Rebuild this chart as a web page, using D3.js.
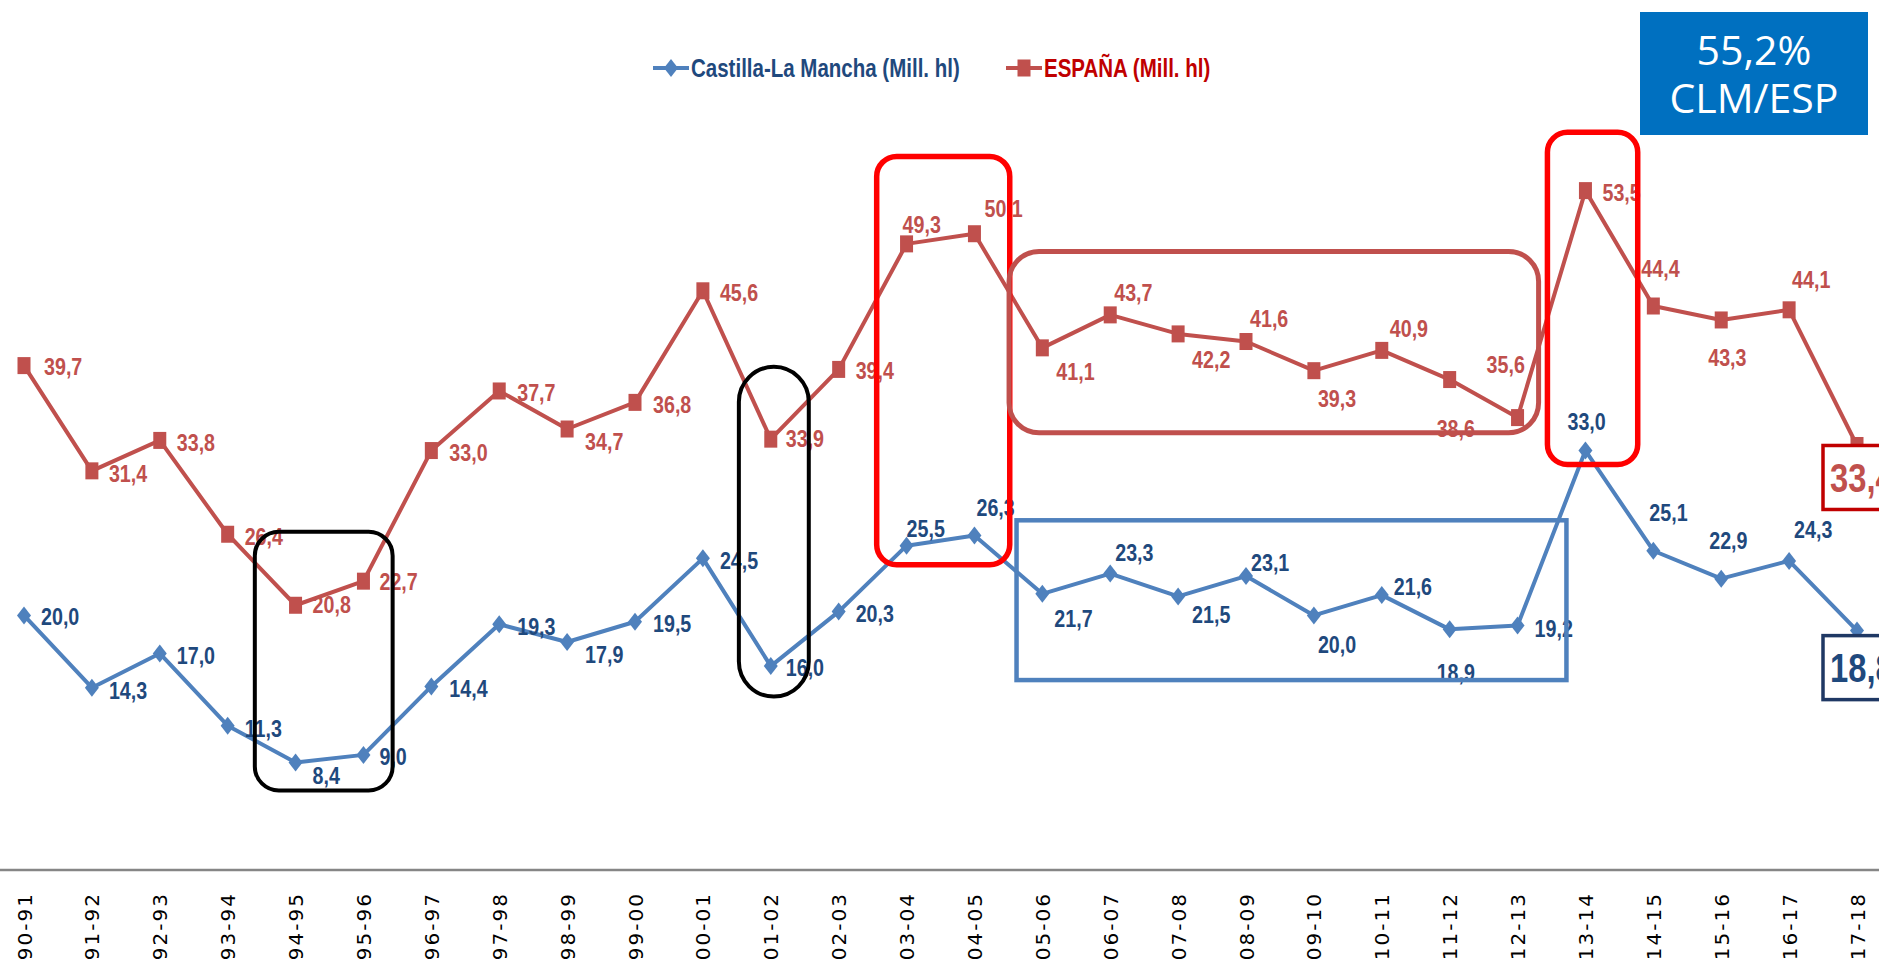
<!DOCTYPE html>
<html>
<head>
<meta charset="utf-8">
<script src="https://d3js.org/d3.v7.min.js"></script>
<style>
  html, body { margin: 0; padding: 0; background: #fff; overflow: hidden; }
  svg { display: block; }
  .lbl { font-family: 'Liberation Sans', Arial, sans-serif; font-weight: bold; }
</style>
</head>
<body>
<div id="chart"></div>
<script>
/* globals d3 */

let seasons = ['90-91', '91-92', '92-93', '93-94', '94-95', '95-96', '96-97', '97-98', '98-99', '99-00',
  '00-01', '01-02', '02-03', '03-04', '04-05', '05-06', '06-07', '07-08', '08-09', '09-10',
  '10-11', '11-12', '12-13', '13-14', '14-15', '15-16', '16-17', '17-18']

let clm = [20.0, 14.3, 17.0, 11.3, 8.4, 9.0, 14.4, 19.3, 17.9, 19.5,
  24.5, 16.0, 20.3, 25.5, 26.3, 21.7, 23.3, 21.5, 23.1, 20.0,
  21.6, 18.9, 19.2, 33.0, 25.1, 22.9, 24.3, 18.8]

let esp = [39.7, 31.4, 33.8, 26.4, 20.8, 22.7, 33.0, 37.7, 34.7, 36.8,
  45.6, 33.9, 39.4, 49.3, 50.1, 41.1, 43.7, 42.2, 41.6, 39.3,
  40.9, 38.6, 35.6, 53.5, 44.4, 43.3, 44.1, 33.4]

let seriesNames = ['Castilla-La Mancha (Mill. hl)', 'ESPAÑA (Mill. hl)']
let ratioText = ['55,2%', 'CLM/ESP']

// where each value label sits relative to its point (dx, dy in px)
let clmLabelPos = [[17, 1], [17, 3], [17, 2], [17, 3], [17, 13], [16, 2], [18, 2], [18, 3], [18, 13], [18, 2],
  [17, 2], [15, 2], [17, 2], [0, -17], [2, -28], [12, 25], [5, -21], [14, 18], [5, -13], [4, 29],
  [12, -8], [-13, 43], [17, 3], [-18, -29], [-4, -38], [-12, -38], [5, -31], null]
let espLabelPos = [[20, 1], [17, 3], [17, 2], [17, 3], [17, 0], [16, 1], [18, 2], [18, 2], [18, 13], [18, 2],
  [17, 2], [15, 0], [17, 1], [-4, -19], [10, -25], [14, 24], [4, -22], [14, 26], [4, -23], [4, 28],
  [8, -22], [-13, 49], [-31, -53], [17, 2], [-12, -37], [-13, 38], [3, -30], null]

// highlight boxes: category index span and value span
let highlights = [
  {i0: 3.40, i1: 5.43, v0: 26.6, v1: 6.2, color: '#000', w: 4, r: 24},
  {i0: 10.53, i1: 11.56, v0: 39.6, v1: 13.6, color: '#000', w: 4, r: 35},
  {i0: 12.56, i1: 14.52, v0: 56.2, v1: 24.0, color: '#ff0000', w: 5.5, r: 20},
  {i0: 14.51, i1: 22.31, v0: 48.7, v1: 34.4, color: '#c0504d', w: 5, r: 30},
  {i0: 14.62, i1: 22.72, v0: 27.5, v1: 14.9, color: '#4f81bd', w: 4.5, r: 0},
  {i0: 22.44, i1: 23.77, v0: 58.1, v1: 31.9, color: '#ff0000', w: 5.5, r: 20}
]

let W = 1879
let H = 959
let SX = 0.82 // horizontal squeeze, the source uses a narrow bold face

let blue = '#4f81bd'
let red = '#c0504d'
let navy = '#1f497d'

let x = d3.scalePoint().domain(seasons).range([24, 1857])
let y = d3.scaleLinear().domain([0, 60]).range([869, 108.2])

function xi (t) {
  return x(seasons[0]) + t * x.step()
}

function at (px, py) {
  return 'translate(' + px + ',' + py + ') scale(' + SX + ',1)'
}

let svg = d3.select('#chart').append('svg').attr('width', W).attr('height', H)

function main () {
  drawAxis()
  drawSeries(esp, red, red, 'square', espLabelPos, '#c00000', 0)
  drawSeries(clm, blue, navy, 'diamond', clmLabelPos, '#1f3864', 5)
  drawHighlights()
  drawLegend()
  drawRatio()
}

function drawAxis () {
  let axis = svg.append('g').attr('transform', 'translate(0,870)')
    .call(d3.axisBottom(x).tickSize(0).tickPadding(0))
  axis.select('.domain').remove()
  axis.append('line')
    .attr('x1', 0).attr('x2', W)
    .attr('stroke', '#868686').attr('stroke-width', 2.5)
  axis.selectAll('.tick text')
    .attr('font-family', 'DejaVu Sans, Verdana, sans-serif')
    .attr('font-size', 20)
    .attr('letter-spacing', 2)
    .attr('fill', '#000')
    .attr('text-anchor', 'end')
    .attr('transform', 'translate(0,22) rotate(-90)')
    .attr('x', 0)
    .attr('y', 0)
    .attr('dy', '0.35em')
}

function marker (sel, shape, color) {
  if (shape === 'square') {
    sel.append('rect')
      .attr('x', -6.5).attr('y', -8.5)
      .attr('width', 13).attr('height', 17)
      .attr('fill', color)
  } else {
    sel.append('path')
      .attr('d', 'M0,-9L7,0L0,9L-7,0Z')
      .attr('fill', color)
  }
}

function drawSeries (values, lineColor, textColor, shape, pos, boxColor, boxShift) {
  let g = svg.append('g')
  let line = d3.line()
    .x((d, i) => x(seasons[i]))
    .y((d) => y(d))

  g.append('path')
    .datum(values)
    .attr('fill', 'none')
    .attr('stroke', lineColor)
    .attr('stroke-width', 4)
    .attr('stroke-linejoin', 'round')
    .attr('d', line)

  let pts = g.selectAll('g.pt')
    .data(values)
    .enter().append('g')
      .attr('class', 'pt')
      .attr('transform', (d, i) => 'translate(' + x(seasons[i]) + ',' + y(d) + ')')
  pts.each(function () { marker(d3.select(this), shape, lineColor) })

  let fmt = (v) => d3.format('.1f')(v).replace('.', ',')

  g.selectAll('text.val')
    .data(values.slice(0, -1))
    .enter().append('text')
      .attr('class', 'lbl val')
      .attr('transform', (d, i) => at(x(seasons[i]) + pos[i][0], y(d) + pos[i][1]))
      .attr('dominant-baseline', 'central')
      .attr('font-size', 24)
      .attr('fill', textColor)
      .text(fmt)

  // last season: large boxed label
  let n = values.length - 1
  let lx = x(seasons[n])
  let ly = y(values[n])
  g.append('rect')
    .attr('x', lx - 34).attr('y', ly + boxShift)
    .attr('width', 80).attr('height', 64)
    .attr('fill', '#fff')
    .attr('stroke', boxColor).attr('stroke-width', 3.5)
  g.append('text')
    .attr('class', 'lbl')
    .attr('transform', at(lx - 27, ly + boxShift + 33))
    .attr('dominant-baseline', 'central')
    .attr('font-size', 40)
    .attr('fill', textColor)
    .text(fmt(values[n]))
}

function drawHighlights () {
  svg.append('g').selectAll('rect')
    .data(highlights)
    .enter().append('rect')
      .attr('x', (d) => xi(d.i0))
      .attr('y', (d) => y(d.v0))
      .attr('width', (d) => xi(d.i1) - xi(d.i0))
      .attr('height', (d) => y(d.v1) - y(d.v0))
      .attr('rx', (d) => d.r)
      .attr('ry', (d) => d.r)
      .attr('fill', 'none')
      .attr('stroke', (d) => d.color)
      .attr('stroke-width', (d) => d.w)
}

function drawLegend () {
  let items = [
    {name: seriesNames[0], color: blue, text: navy, shape: 'diamond', x: 653},
    {name: seriesNames[1], color: red, text: '#c00000', shape: 'square', x: 1006}
  ]
  let lg = svg.append('g').selectAll('g')
    .data(items)
    .enter().append('g')
      .attr('transform', (d) => 'translate(' + d.x + ',68)')
  lg.append('line')
    .attr('x1', 0).attr('x2', 36)
    .attr('stroke', (d) => d.color).attr('stroke-width', 4)
  lg.each(function (d) {
    let m = d3.select(this).append('g').attr('transform', 'translate(18,0)')
    marker(m, d.shape, d.color)
  })
  lg.append('text')
    .attr('class', 'lbl')
    .attr('transform', at(38, 0))
    .attr('dominant-baseline', 'central')
    .attr('font-size', 25)
    .attr('fill', (d) => d.text)
    .text((d) => d.name)
}

function drawRatio () {
  let g = svg.append('g')
  g.append('rect')
    .attr('x', 1640).attr('y', 12)
    .attr('width', 228).attr('height', 123)
    .attr('fill', '#0070c0')
  g.selectAll('text')
    .data(ratioText)
    .enter().append('text')
      .attr('x', 1754)
      .attr('y', (d, i) => 65 + i * 48)
      .attr('text-anchor', 'middle')
      .attr('font-family', 'Open Sans, Noto Sans, sans-serif')
      .attr('font-size', 41)
      .attr('fill', '#fff')
      .text((d) => d)
}

main()
</script>
</body>
</html>
